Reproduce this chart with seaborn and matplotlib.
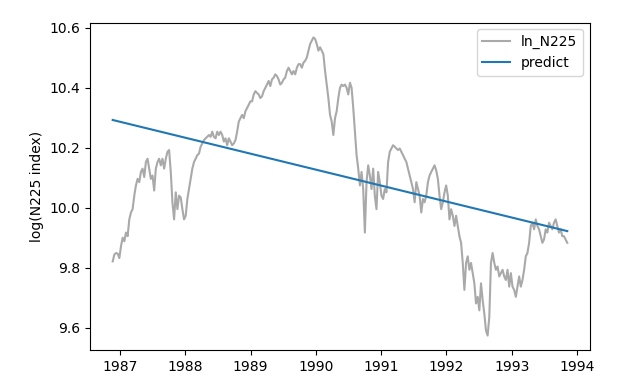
import numpy as np
import pandas as pd
import matplotlib
matplotlib.use("Agg")
import matplotlib.pyplot as plt
import seaborn as sns

# Read-off values of log(N225) at roughly 9-day spacing
start_date = "1986-11-22"
end_date = "1993-11-08"
ln_n225 = [
    9.821, 9.844, 9.849, 9.847, 9.832, 9.872, 9.900, 9.888, 9.917, 9.905,
    9.961, 9.984, 9.995, 10.040, 10.074, 10.096, 10.085, 10.119, 10.130, 10.102,
    10.152, 10.163, 10.130, 10.096, 10.107, 10.057, 10.130, 10.152, 10.163, 10.141,
    10.163, 10.130, 10.163, 10.186, 10.192, 10.119, 10.018, 9.961, 10.051, 9.995,
    10.040, 10.034, 9.995, 9.961, 9.973, 10.029, 10.062, 10.096, 10.130, 10.152,
    10.163, 10.175, 10.180, 10.203, 10.214, 10.225, 10.231, 10.236, 10.242, 10.236,
    10.253, 10.236, 10.231, 10.253, 10.242, 10.253, 10.242, 10.220, 10.231, 10.208,
    10.231, 10.220, 10.208, 10.214, 10.225, 10.253, 10.287, 10.298, 10.309, 10.298,
    10.321, 10.332, 10.343, 10.354, 10.354, 10.377, 10.388, 10.382, 10.377, 10.365,
    10.371, 10.388, 10.399, 10.410, 10.422, 10.405, 10.427, 10.433, 10.444, 10.438,
    10.427, 10.410, 10.416, 10.427, 10.433, 10.455, 10.466, 10.455, 10.444, 10.455,
    10.444, 10.466, 10.478, 10.478, 10.466, 10.483, 10.489, 10.500, 10.523, 10.545,
    10.556, 10.567, 10.562, 10.545, 10.523, 10.534, 10.523, 10.511, 10.455, 10.410,
    10.365, 10.309, 10.287, 10.242, 10.298, 10.321, 10.365, 10.399, 10.410, 10.405,
    10.410, 10.399, 10.377, 10.416, 10.399, 10.332, 10.253, 10.175, 10.130, 10.074,
    10.119, 10.062, 9.917, 10.085, 10.141, 10.107, 10.062, 10.130, 10.040, 9.995,
    10.119, 10.085, 10.040, 10.029, 10.062, 10.051, 10.152, 10.186, 10.197, 10.208,
    10.203, 10.197, 10.192, 10.197, 10.186, 10.175, 10.163, 10.152, 10.130, 10.107,
    10.085, 10.062, 10.018, 10.085, 10.062, 10.040, 9.984, 10.029, 10.018, 10.040,
    10.085, 10.107, 10.119, 10.130, 10.141, 10.124, 10.096, 10.040, 9.995, 10.018,
    10.051, 10.074, 10.040, 9.961, 9.995, 9.973, 9.939, 9.973, 9.939, 9.905,
    9.883, 9.816, 9.726, 9.816, 9.838, 9.793, 9.816, 9.782, 9.748, 9.681,
    9.703, 9.658, 9.748, 9.692, 9.647, 9.591, 9.574, 9.636, 9.816, 9.849,
    9.816, 9.793, 9.804, 9.771, 9.782, 9.793, 9.771, 9.759, 9.793, 9.737,
    9.782, 9.737, 9.726, 9.703, 9.737, 9.771, 9.737, 9.759, 9.793, 9.838,
    9.849, 9.883, 9.939, 9.950, 9.928, 9.961, 9.939, 9.928, 9.905, 9.883,
    9.894, 9.928, 9.917, 9.950, 9.939, 9.928, 9.950, 9.961, 9.939, 9.917,
    9.928, 9.905, 9.905, 9.894, 9.883,
]
predict_ends = [10.292, 9.922]

dates = pd.date_range(start_date, end_date, periods=len(ln_n225))
df = pd.DataFrame({"date": dates, "ln_N225": ln_n225})
df_pred = pd.DataFrame({"date": [dates[0], dates[-1]], "predict": predict_ends})

fig = plt.figure(figsize=(6.24, 3.9), dpi=100)
ax = fig.add_axes([0.1442, 0.1013, 0.8013, 0.8410])

sns.lineplot(data=df, x="date", y="ln_N225", ax=ax, color="darkgray",
             linewidth=1.5, label="ln_N225")
sns.lineplot(data=df_pred, x="date", y="predict", ax=ax, color="#1f77b4",
             linewidth=1.5, label="predict")

ax.set_xlabel("")
ax.set_ylabel("log(N225 index)")
ax.legend(loc="upper right")

fig.savefig("out.png", dpi=100)
